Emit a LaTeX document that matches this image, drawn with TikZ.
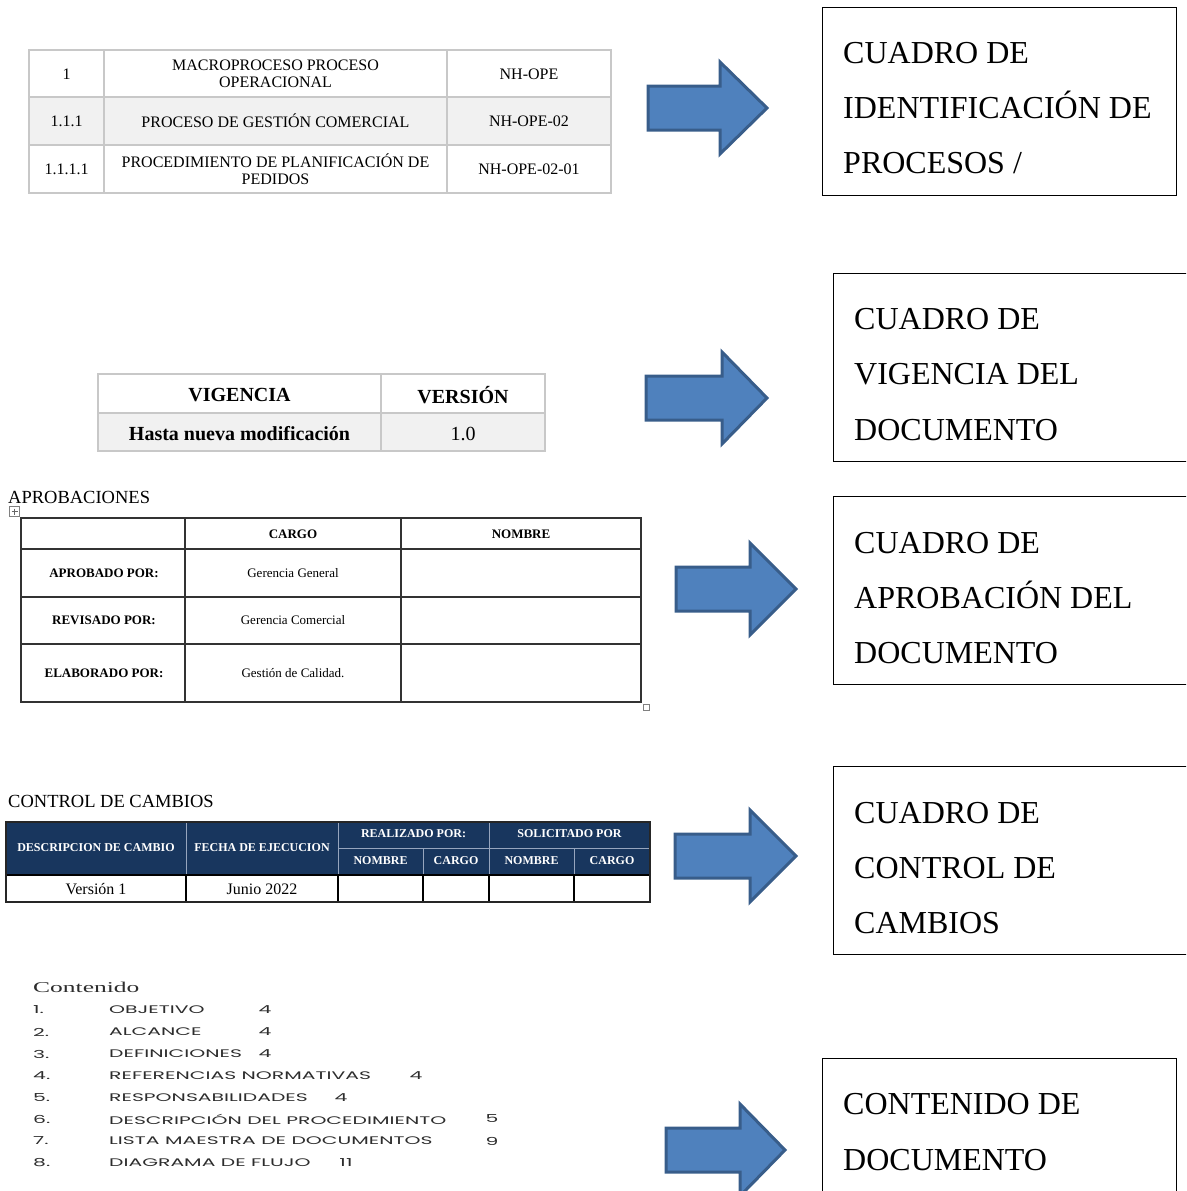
\documentclass[tikz,border=0pt]{standalone}
\usepackage{fontspec}
\setmainfont{Liberation Serif}
\newfontfamily\tocfont{Poppins}
\definecolor{arrowfill}{RGB}{79,129,189}
\definecolor{arrowline}{RGB}{56,93,138}
\definecolor{cellgray}{RGB}{241,241,241}
\definecolor{gridgray}{RGB}{200,200,200}
\definecolor{navy}{RGB}{24,54,94}
\definecolor{navysep}{RGB}{150,165,190}
\definecolor{tocgray}{RGB}{45,45,45}
% wide, flat lettering used by the contents list
\newcommand\wide[1]{\scalebox{1.85}[1]{#1}}
\begin{document}
\begin{tikzpicture}[x=1pt,y=-1pt,
  bigbox/.style={draw=black,line width=1.2pt,anchor=north west,inner sep=0pt},
  bigtxt/.style={anchor=base west,inner sep=0pt,font=\fontsize{32}{38}\selectfont},
  blockarrow/.style={fill=arrowfill,draw=arrowline,line width=3pt,line join=miter},
  cell/.style={inner sep=0pt,align=center},
  tocnum/.style={anchor=west,inner sep=0pt,text=tocgray,font=\tocfont\fontsize{11}{13}\selectfont},
  tocpg/.style={inner sep=0pt,text=tocgray,font=\tocfont\fontsize{11}{13}\selectfont},
  lbl/.style={anchor=base west,inner sep=0pt,font=\fontsize{18.5}{22}\selectfont}]
\useasboundingbox (0,0) rectangle (1186,1191);
\clip (0,0) rectangle (1186,1191);

% ---------- process identification table ----------
\fill[cellgray] (29,97) rectangle (611,145);
\draw[gridgray,line width=1.5pt] (29,50) rectangle (611,193)
  (29,97) -- (611,97) (29,145) -- (611,145)
  (104,50) -- (104,193) (447,50) -- (447,193);
\begin{scope}[every node/.style={cell,font=\fontsize{16}{17}\selectfont}]
\node (t1a) at (66.5,74) {1};
\node (t1b) at (275.5,74) {MACROPROCESO PROCESO\\OPERACIONAL};
\node (t1c) at (529,74) {NH-OPE};
\node (t1d) at (66.5,121) {1.1.1};
\node (t1e) at (275.5,121) {PROCESO DE GESTIÓN COMERCIAL};
\node (t1f) at (529,121) {NH-OPE-02};
\node (t1g) at (66.5,169) {1.1.1.1};
\node (t1h) at (275.5,169) {PROCEDIMIENTO DE PLANIFICACIÓN DE\\PEDIDOS};
\node (t1i) at (529,169) {NH-OPE-02-01};
\end{scope}

% ---------- validity table ----------
\fill[cellgray] (98,413) rectangle (545,451);
\draw[gridgray,line width=1.5pt] (98,374) rectangle (545,451)
  (98,413) -- (545,413) (381,374) -- (381,451);
\begin{scope}[every node/.style={cell,font=\fontsize{20}{22}\selectfont}]
\node (t2a) at (239.5,395) {\bfseries VIGENCIA};
\node (t2b) at (463,395) {\bfseries VERSIÓN};
\node (t2c) at (239.5,434) {\bfseries Hasta nueva modificación};
\node (t2d) at (463,434) {1.0};
\end{scope}

% ---------- approvals table ----------
\node[lbl] (aprob) at (8,503) {APROBACIONES};
\draw[gray,line width=0.6pt] (9.5,506.5) rectangle (19.5,516.5);
\draw[gray!80!black,line width=0.6pt] (11.5,511.5) -- (17.5,511.5) (14.5,508.5) -- (14.5,514.5);
\draw[gray,line width=0.6pt] (643,704) rectangle (649,710);
\draw[black!80,line width=1.3pt] (21,518) rectangle (641,702)
  (21,549) -- (641,549) (21,597) -- (641,597) (21,644) -- (641,644)
  (185,518) -- (185,702) (401,518) -- (401,702);
\begin{scope}[every node/.style={cell,font=\fontsize{13}{15}\selectfont}]
\node (t3a) at (293,534) {\bfseries CARGO};
\node (t3b) at (521,534) {\bfseries NOMBRE};
\node (t3c) at (104,573) {\bfseries APROBADO POR:};
\node (t3d) at (104,620) {\bfseries REVISADO POR:};
\node (t3e) at (104,673) {\bfseries ELABORADO POR:};
\node (t3f) at (293,573) {Gerencia General};
\node (t3g) at (293,620) {Gerencia Comercial};
\node (t3h) at (293,673) {Gestión de Calidad.};
\end{scope}

% ---------- change control table ----------
\node[lbl] (ctrl) at (8,807) {CONTROL DE CAMBIOS};
\fill[navy] (6,822) rectangle (650,875);
\draw[navysep,line width=1pt] (338,848) -- (650,848)
  (186,822) -- (186,875) (338,822) -- (338,875) (489,822) -- (489,875)
  (423,848) -- (423,875) (574,848) -- (574,875);
\draw[black,line width=1.2pt] (6,875) -- (650,875)
  (186,875) -- (186,902) (338,875) -- (338,902) (423,875) -- (423,902)
  (489,875) -- (489,902) (574,875) -- (574,902);
\draw[black!85,line width=1.3pt] (6,822) rectangle (650,902);
\begin{scope}[every node/.style={cell,text=white,font=\bfseries\fontsize{12}{14}\selectfont}]
\node (t4a) at (96,848) {DESCRIPCION DE CAMBIO};
\node (t4b) at (262,848) {FECHA DE EJECUCION};
\node (t4c) at (413.5,834) {REALIZADO POR:};
\node (t4d) at (569.5,834) {SOLICITADO POR};
\node (t4e) at (380.5,861) {NOMBRE};
\node (t4f) at (456,861) {CARGO};
\node (t4g) at (531.5,861) {NOMBRE};
\node (t4h) at (612,861) {CARGO};
\end{scope}
\begin{scope}[every node/.style={cell,font=\fontsize{16}{18}\selectfont}]
\node (t4i) at (96,889) {Versión 1};
\node (t4j) at (262,889) {Junio 2022};
\end{scope}

% ---------- table of contents ----------
\node[anchor=base west,inner sep=0pt,text=tocgray,font=\fontsize{15}{17}\selectfont] (cont) at (33,992) {\scalebox{1.7}[1]{Contenido}};
\foreach \n/\yy/\ttl/\px/\pg in {
  1/1010/OBJETIVO/265/4,
  2/1032/ALCANCE/265/4,
  3/1054/DEFINICIONES/265/4,
  4/1076/REFERENCIAS NORMATIVAS/416/4,
  5/1098/RESPONSABILIDADES/341/4,
  6/1119/DESCRIPCIÓN DEL PROCEDIMIENTO/492/5,
  7/1141/LISTA MAESTRA DE DOCUMENTOS/492/9,
  8/1163/DIAGRAMA DE FLUJO/346/11}{
  \node[tocnum] (tn\n) at (33,\yy) {\wide{\n.}};
  \node[tocnum] (tt\n) at (109,\yy) {\wide{\ttl}};
  \node[tocpg] (tp\n) at (\px,\yy) {\wide{\pg}};
}

% ---------- block arrows ----------
\foreach \L/\H/\T/\C in {648/720/767/108, 646/722/767/398, 676/750/796/589, 675/750/796/856, 666/740/785/1150}
  \draw[blockarrow] (\L,\C-22) -- (\H,\C-22) -- (\H,\C-46) -- (\T,\C)
    -- (\H,\C+46) -- (\H,\C+22) -- (\L,\C+22) -- cycle;

% ---------- description boxes ----------
\node[bigbox,minimum width=354,minimum height=188] (b1) at (822,7) {};
\node[bigtxt] (b1a) at (843,63) {CUADRO DE};
\node[bigtxt] (b1b) at (843,118) {IDENTIFICACIÓN DE};
\node[bigtxt] (b1c) at (843,173) {PROCESOS /};

\node[bigbox,minimum width=360,minimum height=188] (b2) at (833,273) {};
\node[bigtxt] (b2a) at (854,329) {CUADRO DE};
\node[bigtxt] (b2b) at (854,384) {VIGENCIA DEL};
\node[bigtxt] (b2c) at (854,440) {DOCUMENTO};

\node[bigbox,minimum width=360,minimum height=188] (b3) at (833,496) {};
\node[bigtxt] (b3a) at (854,553) {CUADRO DE};
\node[bigtxt] (b3b) at (854,608) {APROBACIÓN DEL};
\node[bigtxt] (b3c) at (854,663) {DOCUMENTO};

\node[bigbox,minimum width=360,minimum height=188] (b4) at (833,766) {};
\node[bigtxt] (b4a) at (854,823) {CUADRO DE};
\node[bigtxt] (b4b) at (854,878) {CONTROL DE};
\node[bigtxt] (b4c) at (854,933) {CAMBIOS};

\node[bigbox,minimum width=354,minimum height=160] (b5) at (822,1058) {};
\node[bigtxt] (b5a) at (843,1114) {CONTENIDO DE};
\node[bigtxt] (b5b) at (843,1170) {DOCUMENTO};
\end{tikzpicture}
\end{document}
